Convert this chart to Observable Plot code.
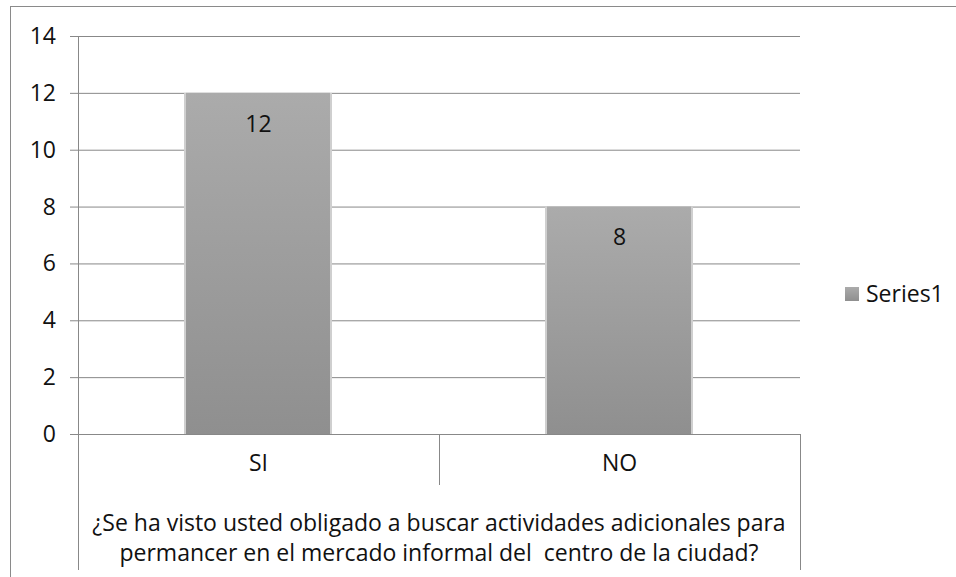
<!DOCTYPE html>
<html><head><meta charset="utf-8">
<script src="https://cdn.jsdelivr.net/npm/d3@7"></script>
<script src="https://cdn.jsdelivr.net/npm/@observablehq/plot@0.6"></script>
<style>
body{margin:0;background:#fff;overflow:hidden;}
#wrap{position:relative;width:956px;height:577px;}
#border{position:absolute;left:10px;top:6px;width:1000px;height:700px;border:1px solid #8a8a8a;box-sizing:border-box;}
#chart{position:absolute;left:0;top:0;}
</style></head>
<body><div id="wrap"><div id="border"></div><div id="chart"></div></div>
<script>
const categories = ["SI", "NO"];
const values = [12, 8];
const seriesName = "Series1";
const yTicks = [0, 2, 4, 6, 8, 10, 12, 14];
const questionLines = ["¿Se ha visto usted obligado a buscar actividades adicionales para", "permancer en el mercado informal del  centro de la ciudad?"];

const data = categories.map((c, i) => ({cat: c, v: values[i]}));
const font = "'Open Sans', Lato, sans-serif";
const fs = 23;

const defs = () => {
  const d = d3.create("svg:defs");
  const g = d.append("linearGradient").attr("id", "barGrad").attr("x1", 0).attr("y1", 0).attr("x2", 0).attr("y2", 1);
  g.append("stop").attr("offset", "0%").attr("stop-color", "#ababab");
  g.append("stop").attr("offset", "100%").attr("stop-color", "#8f8f8f");
  const f = d.append("filter").attr("id", "soft").attr("x", "-20%").attr("y", "-20%").attr("width", "140%").attr("height", "140%");
  f.append("feGaussianBlur").attr("stdDeviation", 2);
  return d.node();
};

const chart = Plot.plot({
  width: 956, height: 577,
  marginLeft: 78, marginRight: 156, marginTop: 36, marginBottom: 143,
  style: {fontFamily: font, fontSize: fs + "px", color: "#222", background: "transparent"},
  x: {domain: categories, paddingInner: 0.6, paddingOuter: 0.3, axis: null},
  y: {domain: [0, 14], ticks: yTicks, axis: null},
  marks: [
    defs,
    Plot.ruleY(yTicks, {stroke: "#888", strokeWidth: 1, strokeOpacity: 1}),
    Plot.barY(data, {x: "cat", y: "v", fill: "#cfcfcf", insetLeft: -2, insetRight: -2, style: "filter:url(#soft)"}),
    Plot.barY(data, {x: "cat", y: "v", fill: "url(#barGrad)"}),
    Plot.text(data, {x: "cat", y: "v", text: d => String(d.v), dy: 31, fill: "#111", fontSize: fs}),
    Plot.text(data, {x: "cat", text: "cat", frameAnchor: "bottom", dy: 36, fill: "#111", fontSize: fs})
  ]
});
document.getElementById("chart").appendChild(chart);

// custom axis decorations from scales
const svg = d3.select(chart);
const xs = chart.scale("x"), ys = chart.scale("y");
const left = 78, right = 956 - 156;
const y0 = ys.apply(0), yTop = ys.apply(14);
const step = xs.step;
const xStart = xs.apply(categories[0]) - (step - xs.bandwidth) / 2;
const gA = svg.append("g").attr("stroke", "#888").attr("stroke-width", 1);
gA.append("line").attr("x1", left + 0.5).attr("x2", left + 0.5).attr("y1", yTop).attr("y2", 570);
gA.append("line").attr("x1", right + 0.5).attr("x2", right + 0.5).attr("y1", y0).attr("y2", 570);
for (let i = 1; i < categories.length; i++) {
  const xx = Math.round(xStart + i * step) + 0.5;
  gA.append("line").attr("x1", xx).attr("x2", xx).attr("y1", y0).attr("y2", 485);
}
yTicks.forEach(t => {
  const yy = ys.apply(t);
  gA.append("line").attr("x1", 70).attr("x2", left).attr("y1", yy + 0.5).attr("y2", yy + 0.5);
  svg.append("text").attr("x", 56).attr("y", yy).attr("dy", "0.35em").attr("text-anchor", "end")
    .attr("font-family", font).attr("font-size", fs).attr("fill", "#111").text(t);
});
questionLines.forEach((l, i) => {
  svg.append("text").attr("x", (left + right) / 2).attr("y", 523 + i * 30).attr("dy", "0.35em").attr("text-anchor", "middle")
    .attr("font-family", font).attr("font-size", fs).attr("fill", "#111").text(l);
});
// legend
svg.append("rect").attr("x", 845).attr("y", 287).attr("width", 14).attr("height", 14).attr("fill", "url(#barGrad)");
svg.append("text").attr("x", 866).attr("y", 294).attr("dy", "0.35em").attr("text-anchor", "start").attr("font-family", font).attr("font-size", fs).attr("fill", "#111").text(seriesName);
</script></body></html>
